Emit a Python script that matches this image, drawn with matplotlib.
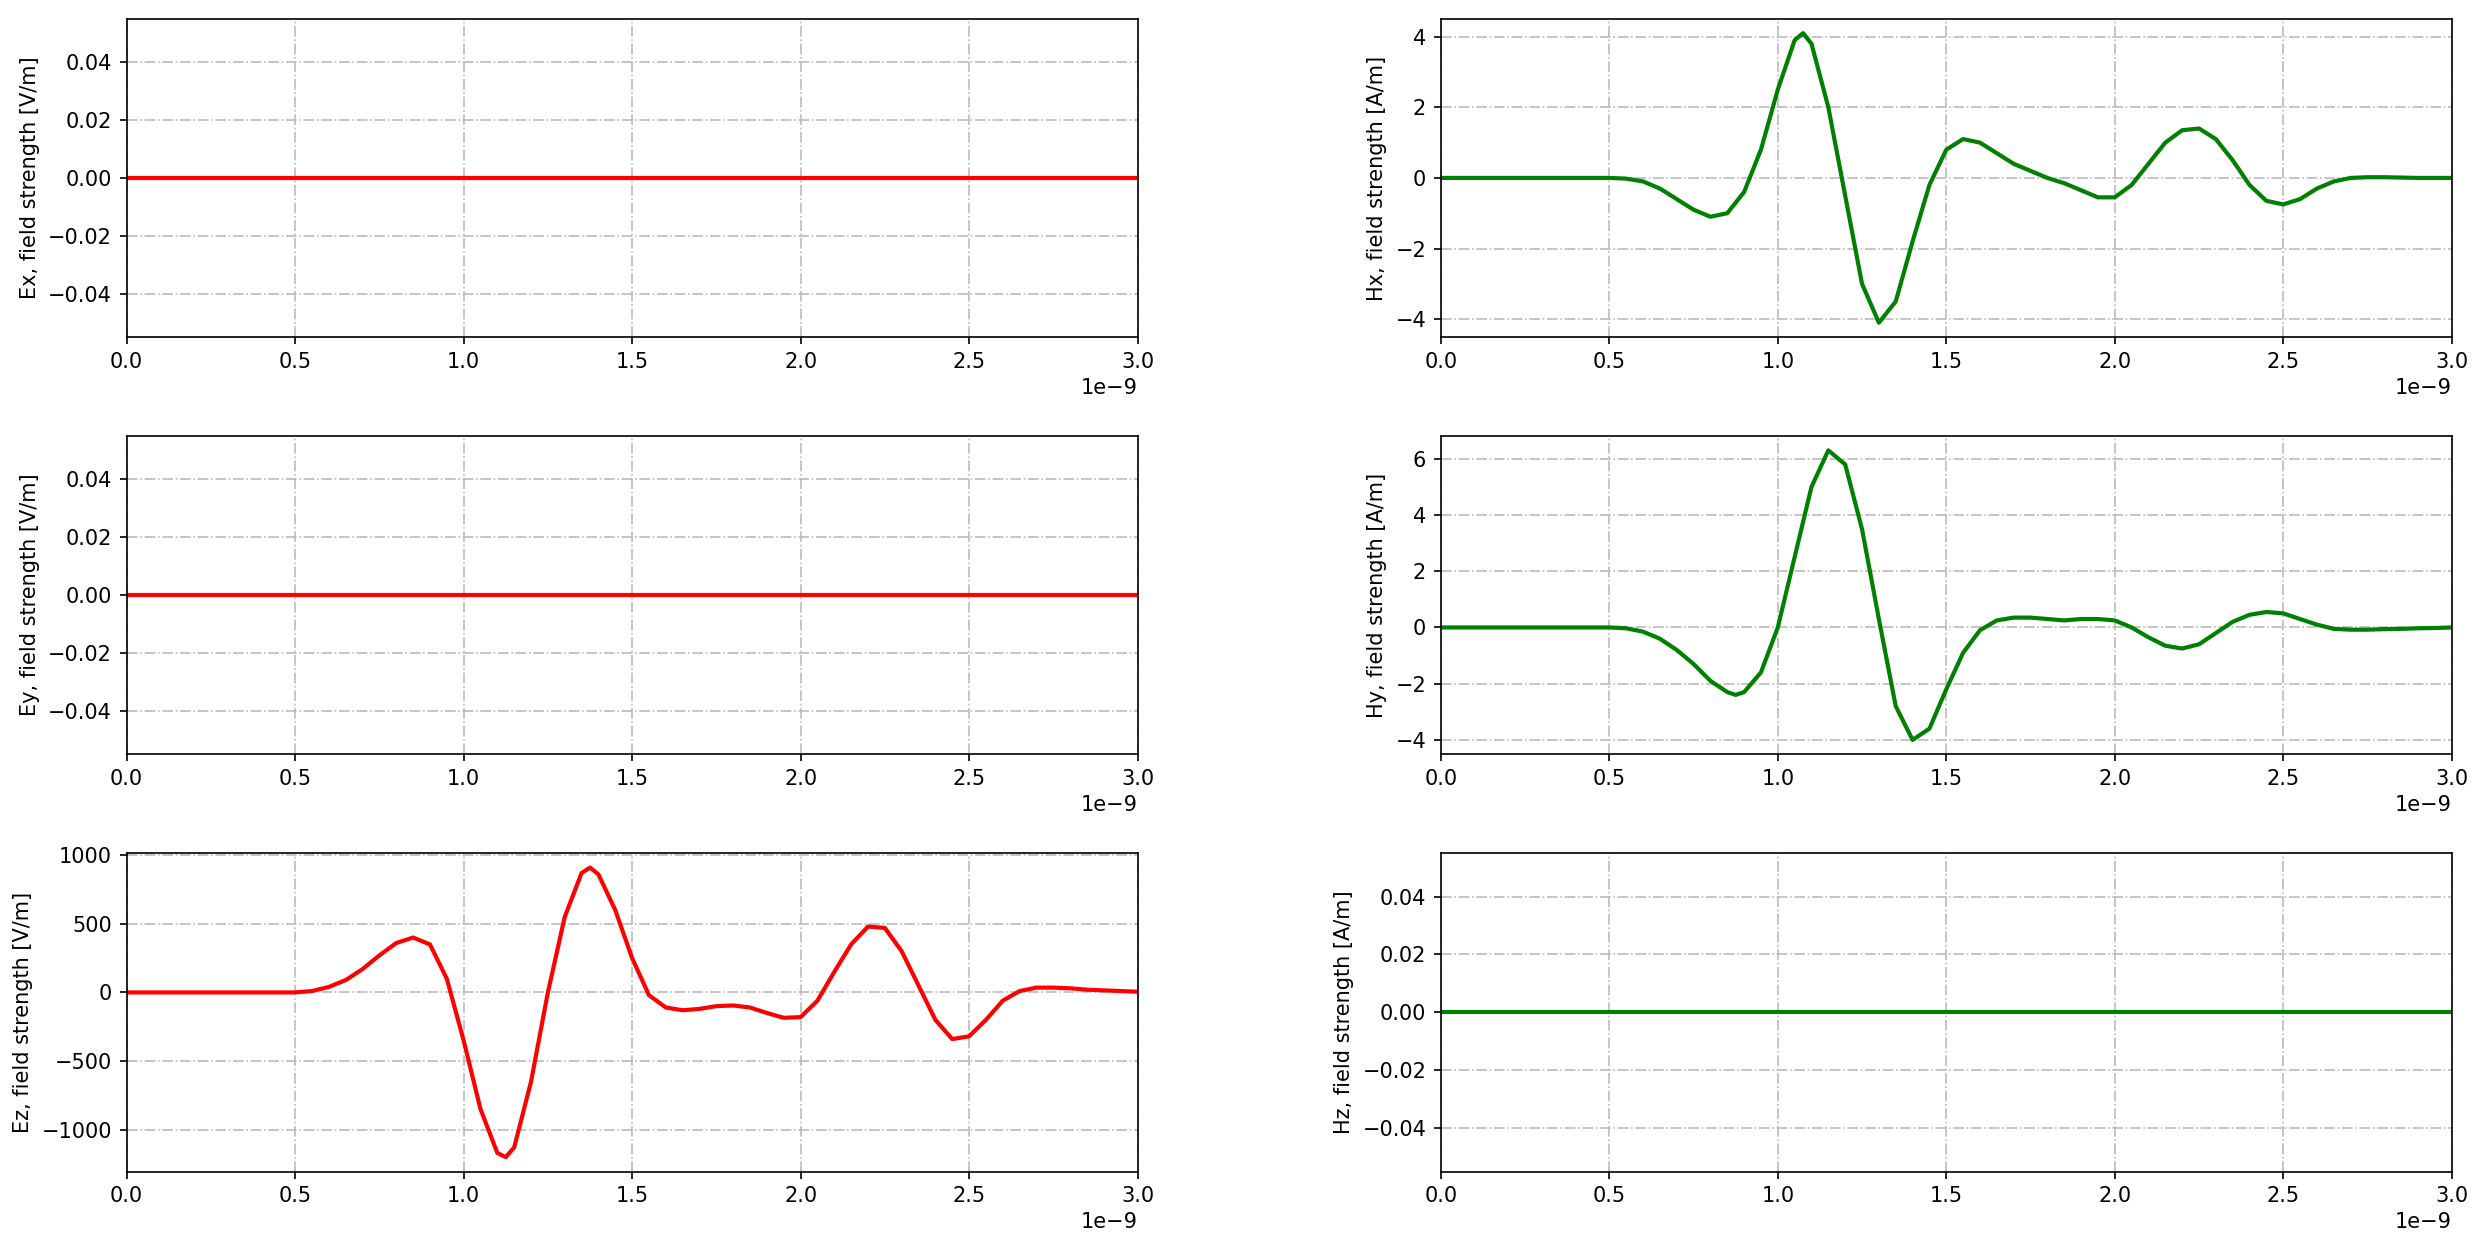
import matplotlib
matplotlib.use("Agg")
import matplotlib.pyplot as plt
import numpy as np

# Zeitachsen in ns (werden unten nach Sekunden umgerechnet)
t_hx = [0, 0.5, 0.55, 0.6, 0.65, 0.7, 0.75, 0.8, 0.85, 0.9, 0.95, 1.0, 1.05, 1.075, 1.1, 1.15,
        1.2, 1.25, 1.3, 1.35, 1.4, 1.45, 1.5, 1.55, 1.6, 1.65, 1.7, 1.75, 1.8, 1.85, 1.9,
        1.95, 2.0, 2.05, 2.1, 2.15, 2.2, 2.25, 2.3, 2.35, 2.4, 2.45, 2.5, 2.55, 2.6, 2.65,
        2.7, 2.75, 2.8, 2.9, 3.0]
hx = [0, 0, -0.02, -0.1, -0.3, -0.6, -0.9, -1.1, -1.0, -0.4, 0.8, 2.5, 3.9, 4.1, 3.8, 2.0,
      -0.5, -3.0, -4.1, -3.5, -1.8, -0.2, 0.8, 1.1, 1.0, 0.7, 0.4, 0.2, 0.0, -0.15, -0.35,
      -0.55, -0.55, -0.2, 0.4, 1.0, 1.35, 1.4, 1.1, 0.5, -0.2, -0.65, -0.75, -0.6, -0.3, -0.1,
      0.0, 0.02, 0.02, 0, 0]

t_hy = [0, 0.5, 0.55, 0.6, 0.65, 0.7, 0.75, 0.8, 0.85, 0.875, 0.9, 0.95, 1.0, 1.05, 1.1, 1.15,
        1.2, 1.25, 1.3, 1.35, 1.4, 1.45, 1.5, 1.55, 1.6, 1.65, 1.7, 1.75, 1.8, 1.85, 1.9,
        1.95, 2.0, 2.05, 2.1, 2.15, 2.2, 2.25, 2.3, 2.35, 2.4, 2.45, 2.5, 2.55, 2.6, 2.65,
        2.7, 2.75, 2.8, 2.85, 2.9, 2.95, 3.0]
hy = [0, 0, -0.03, -0.15, -0.4, -0.8, -1.3, -1.9, -2.3, -2.4, -2.3, -1.6, 0.0, 2.5, 5.0, 6.3,
      5.8, 3.5, 0.3, -2.8, -4.0, -3.6, -2.2, -0.9, -0.1, 0.25, 0.35, 0.35, 0.3, 0.25, 0.3,
      0.3, 0.25, 0.0, -0.35, -0.65, -0.75, -0.6, -0.2, 0.2, 0.45, 0.55, 0.5, 0.3, 0.1, -0.05,
      -0.08, -0.08, -0.06, -0.05, -0.03, -0.02, 0]

t_ez = [0, 0.5, 0.55, 0.6, 0.65, 0.7, 0.75, 0.8, 0.85, 0.9, 0.95, 1.0, 1.05, 1.1, 1.125, 1.15,
        1.2, 1.25, 1.3, 1.35, 1.375, 1.4, 1.45, 1.5, 1.55, 1.6, 1.65, 1.7, 1.75, 1.8, 1.85,
        1.9, 1.95, 2.0, 2.05, 2.1, 2.15, 2.2, 2.25, 2.3, 2.35, 2.4, 2.45, 2.5, 2.55, 2.6,
        2.65, 2.7, 2.75, 2.8, 2.85, 2.9, 2.95, 3.0]
ez = [0, 0, 10, 40, 90, 170, 270, 360, 400, 350, 100, -350, -850, -1170, -1200, -1130,
      -650, 0, 550, 870, 910, 860, 600, 250, -20, -110, -130, -120, -100, -95, -110,
      -150, -185, -180, -60, 150, 350, 480, 470, 300, 50, -200, -340, -320, -200, -60,
      10, 35, 35, 30, 20, 15, 10, 5]

t_zero = [0, 3.0]
zero = [0, 0]

panels = [
    (0, 0, t_zero, zero, "red", "Ex, field strength [V/m]"),
    (0, 1, t_hx, hx, "green", "Hx, field strength [A/m]"),
    (1, 0, t_zero, zero, "red", "Ey, field strength [V/m]"),
    (1, 1, t_hy, hy, "green", "Hy, field strength [A/m]"),
    (2, 0, t_ez, ez, "red", "Ez, field strength [V/m]"),
    (2, 1, t_zero, zero, "green", "Hz, field strength [A/m]"),
]

fig, axes = plt.subplots(3, 2, figsize=(16.56, 8.327), dpi=150)
fig.subplots_adjust(left=0.051, right=0.987, top=0.985, bottom=0.062, wspace=0.30, hspace=0.31)

for r, c, t, y, col, label in panels:
    ax = axes[r, c]
    ax.plot(np.array(t) * 1e-9, y, color=col, linewidth=2)
    ax.set_xlim(0, 3e-9)
    ax.set_ylabel(label)
    ax.grid(True, linestyle="-.", color="#bbbbbb")

plt.savefig("out.png")
plt.close()
